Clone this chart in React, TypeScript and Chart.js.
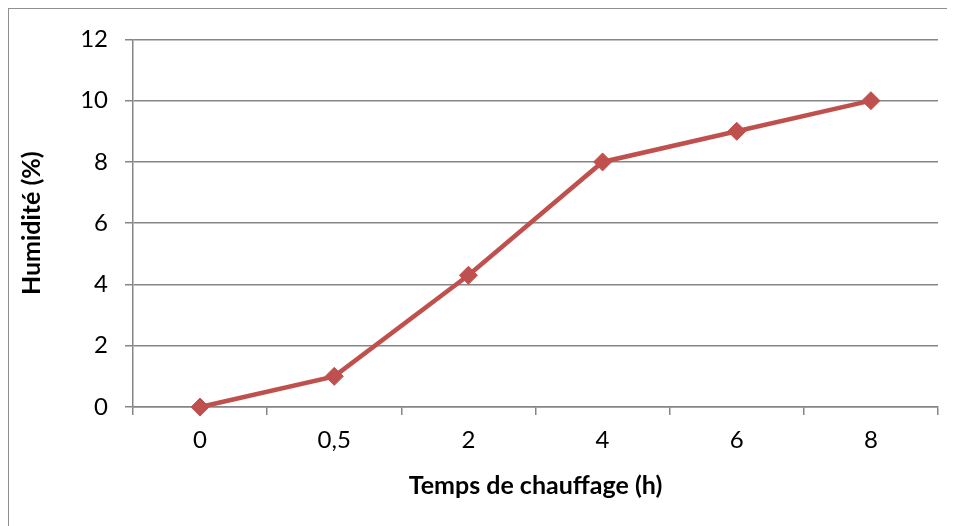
import React, { useEffect, useRef } from "react";
import { Chart, registerables } from "chart.js";
Chart.register(...registerables);

const categories = ["0", "0,5", "2", "4", "6", "8"];
const humidity = [0, 1, 4.3, 8, 9, 10];
const yTicks = [0, 2, 4, 6, 8, 10, 12];
const xTitle = "Temps de chauffage (h)";
const yTitle = "Humidité (%)";

const FONT = "Lato, 'Open Sans', sans-serif";
const GRID = "#868686";
const RED = "#C0504D";

export default function App() {
  const ref = useRef<HTMLCanvasElement>(null);
  useEffect(() => {
    const chart = new Chart(ref.current!, {
      type: "line",
      data: {
        labels: categories,
        datasets: [
          {
            data: humidity,
            borderColor: RED,
            backgroundColor: RED,
            borderWidth: 4.5,
            pointStyle: "rectRot",
            pointRadius: 9,
            pointBorderWidth: 1,
            pointBackgroundColor: RED,
            pointBorderColor: RED,
            tension: 0,
            clip: false as any,
          },
        ],
      },
      options: {
        responsive: false,
        animation: false,
        layout: { padding: { left: 0, right: 17, top: 30, bottom: 0 } },
        plugins: { legend: { display: false }, tooltip: { enabled: false } },
        scales: {
          x: {
            offset: true,
            grid: {
              offset: true,
              drawOnChartArea: false,
              drawTicks: true,
              tickLength: 8,
              color: GRID,
              lineWidth: 1.5,
            },
            border: { color: GRID, width: 1.5 },
            ticks: { color: "#000", font: { family: FONT, size: 24 }, padding: 11, maxRotation: 0 },
            title: {
              display: true,
              text: xTitle,
              color: "#000",
              font: { family: FONT, size: 25, weight: "bold" },
              padding: { top: 0, bottom: 25 },
            },
            afterFit: (s: any) => {
              s.height = 119;
            },
          },
          y: {
            min: 0,
            max: 12,
            afterBuildTicks: (s: any) => {
              s.ticks = yTicks.map((v) => ({ value: v }));
            },
            grid: { color: GRID, lineWidth: 1.5, tickLength: 8 },
            border: { color: GRID, width: 1.5 },
            ticks: { color: "#000", font: { family: FONT, size: 24 }, padding: 17 },
            title: {
              display: true,
              text: yTitle,
              color: "#000",
              font: { family: FONT, size: 25, weight: "bold" },
              padding: { top: 9, bottom: 0 },
            },
            afterFit: (s: any) => {
              s.width = 125;
            },
          },
        },
      },
    });
    return () => chart.destroy();
  }, []);
  return (
    <div style={{ position: "relative", width: 947, height: 518 }}>
      <canvas ref={ref} width={947} height={518} style={{ position: "absolute", left: 0, top: 0 }} />
      <div
        style={{
          position: "absolute",
          left: -1,
          top: -1,
          right: 0,
          bottom: 0,
          borderLeft: "2px solid #8f8f8f",
          borderTop: "2px solid #8f8f8f",
          pointerEvents: "none",
        }}
      />
    </div>
  );
}
